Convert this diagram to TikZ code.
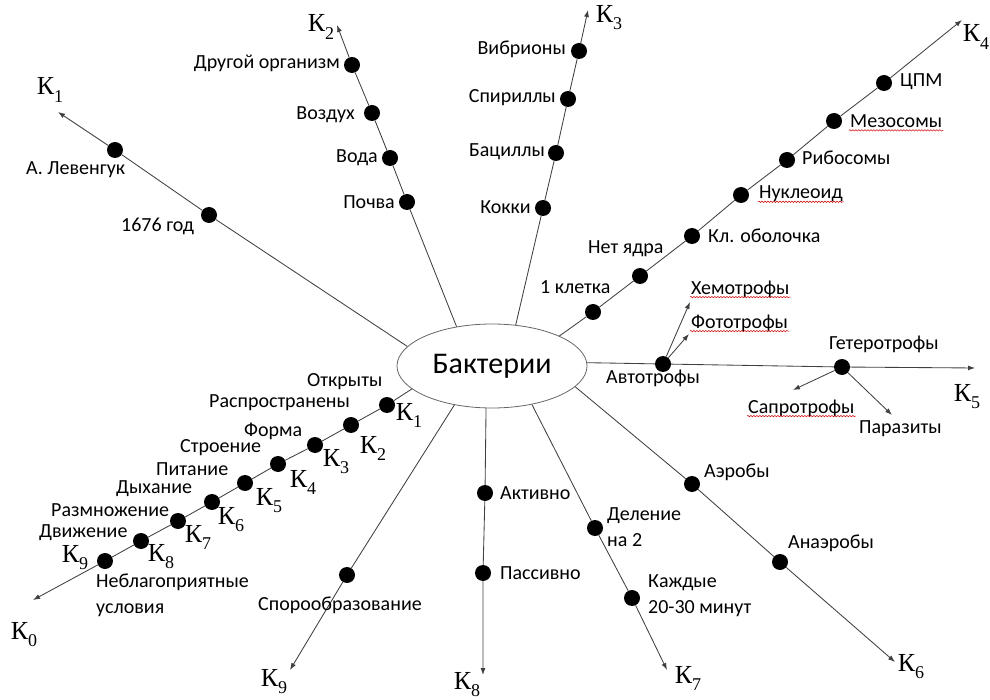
\documentclass[tikz,border=0pt]{standalone}
\usepackage{fontspec}
\setmainfont{Carlito}
\newfontfamily\kfont{Liberation Serif}
\usetikzlibrary{arrows.meta,shapes.geometric,decorations.pathmorphing}

% К with a lowered index digit
\newcommand\kk[1]{{\kfont\fontsize{26}{26}\selectfont К\raisebox{-0.27em}{\fontsize{18}{18}\selectfont #1}}}

\tikzset{
  ray/.style={draw=black!75, line width=0.85pt},
  tipray/.style={ray, -{Latex[length=7pt,width=5pt]}},
  dot/.style={circle, fill=black, minimum size=16pt, inner sep=0pt},
  lbl/.style={font=\fontsize{20}{26}\selectfont, inner sep=1pt, text=black},
  klbl/.style={inner sep=0pt},
  wavy/.style={draw=red!80!black, line width=0.5pt, decorate,
    decoration={snake, amplitude=0.7pt, segment length=3pt}},
}

\begin{document}
\begin{tikzpicture}[x=1pt, y=-1pt]
\useasboundingbox (0,0) rectangle (990,700);

% centre
\node[ellipse, draw=black!60, line width=0.8pt, minimum width=190pt, minimum height=84pt,
      inner sep=0pt, font=\fontsize{30}{30}\selectfont] (b) at (492,366) {Бактерии};

% ---------- К1: discovery ----------
\coordinate (t1) at (58,112);
\node[dot] (a1) at (209,215) {};
\node[dot] (a2) at (115,150) {};
\draw[tipray] (b.167) -- (a1) -- (a2) -- (t1);
\node[lbl, anchor=west] (l11) at (120,226) {1676 год};
\node[lbl, anchor=west] (l12) at (25,170) {А. Левенгук};
\node[klbl] (k1) at (50,90) {\kk{1}};

% ---------- К2: habitat ----------
\coordinate (t2) at (337,25);
\node[dot] (c1) at (407,202) {};
\node[dot] (c2) at (390,158) {};
\node[dot] (c3) at (372,113) {};
\node[dot] (c4) at (352,65) {};
\draw[tipray] (b.132) -- (c1) -- (c2) -- (c3) -- (c4) -- (t2);
\node[lbl, anchor=east] (l21) at (396,202) {Почва};
\node[lbl, anchor=east] (l22) at (379,158) {Вода};
\node[lbl, anchor=east] (l23) at (356,115) {Воздух};
\node[lbl, anchor=east] (l24) at (341,63) {Другой организм};
\node[klbl] (k2) at (321,27) {\kk{2}};

% ---------- К3: shape ----------
\coordinate (t3) at (588,10);
\node[dot] (e1) at (543,208) {};
\node[dot] (e2) at (556,153) {};
\node[dot] (e3) at (568,99) {};
\node[dot] (e4) at (579,51) {};
\draw[tipray] (b.60) -- (e1) -- (e2) -- (e3) -- (e4) -- (t3);
\node[lbl, anchor=east] (l31) at (532,207) {Кокки};
\node[lbl, anchor=east] (l32) at (546,152) {Бациллы};
\node[lbl, anchor=east] (l33) at (557,98) {Спириллы};
\node[lbl, anchor=east] (l34) at (567,49) {Вибрионы};
\node[klbl] (k3) at (609,18) {\kk{3}};

% ---------- К4: structure ----------
\coordinate (t4) at (962,20);
\node[dot] (g1) at (593,312) {};
\node[dot] (g2) at (640,276) {};
\node[dot] (g3) at (692,236) {};
\node[dot] (g4) at (741,195) {};
\node[dot] (g5) at (787,160) {};
\node[dot] (g6) at (834,121) {};
\node[dot] (g7) at (884,83) {};
\draw[tipray] (b.24) -- (g1) -- (g2) -- (g3) -- (g4) -- (g5) -- (g6) -- (g7) -- (t4);
\node[lbl, anchor=west] (l41) at (539,287) {1 клетка};
\node[lbl, anchor=west] (l42) at (587,249) {Нет ядра};
\node[lbl, anchor=west] (l43) at (707,236) {Кл. оболочка};
\node[lbl, anchor=west] (l44) at (758,194) {Нуклеоид};
\node[lbl, anchor=west] (l45) at (801,158) {Рибосомы};
\node[lbl, anchor=west] (l46) at (849,121) {Мезосомы};
\node[lbl, anchor=west] (l47) at (899,82) {ЦПМ};
\node[klbl] (k4) at (976,37) {\kk{4}};

% ---------- К5: nutrition ----------
\coordinate (t5) at (975,368);
\coordinate (chemo) at (690,302);
\coordinate (photo) at (689,334);
\coordinate (sapro) at (793,390);
\coordinate (paras) at (892,415);
\node[dot] (auto) at (663,364) {};
\node[dot] (hetero) at (842,367) {};
\draw[tipray] (b.2) -- (auto) -- (hetero) -- (t5);
\draw[tipray] (auto) -- (chemo);
\draw[tipray] (auto) -- (photo);
\draw[tipray] (hetero) -- (sapro);
\draw[tipray] (hetero) -- (paras);
\node[lbl, anchor=west] (l51) at (690,289) {Хемотрофы};
\node[lbl, anchor=west] (l52) at (690,323) {Фототрофы};
\node[lbl, anchor=west] (l53) at (605,378) {Автотрофы};
\node[lbl, anchor=west] (l54) at (828,344) {Гетеротрофы};
\node[lbl, anchor=west] (l55) at (747,408) {Сапротрофы};
\node[lbl, anchor=west] (l56) at (858,429) {Паразиты};
\node[klbl] (k5) at (967,397) {\kk{5}};

% ---------- К6: respiration ----------
\coordinate (t6) at (895,662);
\node[dot] (h1) at (692,484) {};
\node[dot] (h2) at (780,562) {};
\draw[tipray] (b.-14) -- (h1) -- (h2) -- (t6);
\node[lbl, anchor=west] (l61) at (703,472) {Аэробы};
\node[lbl, anchor=west] (l62) at (787,543) {Анаэробы};
\node[klbl] (k6) at (911,667) {\kk{6}};

% ---------- К7: reproduction ----------
\coordinate (t7) at (667,670);
\node[dot] (m1) at (595,528) {};
\node[dot] (m2) at (632,598) {};
\draw[tipray] (b.-44) -- (m1) -- (m2) -- (t7);
\node[lbl, anchor=west, align=left] (l71) at (606,527) {Деление\\на 2};
\node[lbl, anchor=west, align=left] (l72) at (647,596) {Каждые\\20-30 минут};
\node[klbl] (k7) at (688,678) {\kk{7}};

% ---------- К8: movement ----------
\coordinate (t8) at (483,675);
\node[dot] (p1) at (485,493) {};
\node[dot] (p2) at (483,573) {};
\draw[tipray] (b.-98) -- (p1) -- (p2) -- (t8);
\node[lbl, anchor=west] (l81) at (499,493) {Активно};
\node[lbl, anchor=west] (l82) at (499,573) {Пассивно};
\node[klbl] (k8) at (467,685) {\kk{8}};

% ---------- К9: spores ----------
\coordinate (t9) at (290,670);
\node[dot] (s1) at (347,575) {};
\draw[tipray] (b.-134) -- (s1) -- (t9);
\node[lbl, anchor=west] (l91) at (257,605) {Спорообразование};
\node[klbl] (k9) at (274,682) {\kk{9}};

% ---------- К0: plan of study ----------
\coordinate (t0) at (33,600);
\node[dot] (q1) at (387,405) {};
\node[dot] (q2) at (351,425) {};
\node[dot] (q3) at (315,445) {};
\node[dot] (q4) at (278,464) {};
\node[dot] (q5) at (245,483) {};
\node[dot] (q6) at (212,502) {};
\node[dot] (q7) at (178,521) {};
\node[dot] (q8) at (141,541) {};
\node[dot] (q9) at (105,561) {};
\draw[tipray] (b.196) -- (q1) -- (q2) -- (q3) -- (q4) -- (q5) -- (q6) -- (q7) -- (q8) -- (q9) -- (t0);
\node[lbl, anchor=west] (r1) at (306,382) {Открыты};
\node[lbl, anchor=west] (r2) at (208,403) {Распространены};
\node[lbl, anchor=west] (r3) at (243,431) {Форма};
\node[lbl, anchor=west] (r4) at (179,448) {Строение};
\node[lbl, anchor=west] (r5) at (155,469) {Питание};
\node[lbl, anchor=west] (r6) at (115,489) {Дыхание};
\node[lbl, anchor=west] (r7) at (50,510) {Размножение};
\node[lbl, anchor=west] (r8) at (38,533) {Движение};
\node[lbl, anchor=west, align=left] (r9) at (95,595) {Неблагоприятные\\условия};
\node[klbl] (n1) at (409,415) {\kk{1}};
\node[klbl] (n2) at (373,448) {\kk{2}};
\node[klbl] (n3) at (336,462) {\kk{3}};
\node[klbl] (n4) at (303,482) {\kk{4}};
\node[klbl] (n5) at (269,501) {\kk{5}};
\node[klbl] (n6) at (231,520) {\kk{6}};
\node[klbl] (n7) at (198,537) {\kk{7}};
\node[klbl] (n8) at (161,557) {\kk{8}};
\node[klbl] (n9) at (75,558) {\kk{9}};
\node[klbl] (n0) at (24,635) {\kk{0}};

% spell-check underlines
\foreach \w in {l44,l46,l51,l52,l55}
  \draw[wavy] ([yshift=-3pt]\w.base west) -- ([yshift=-3pt]\w.base east);

\end{tikzpicture}
\end{document}
